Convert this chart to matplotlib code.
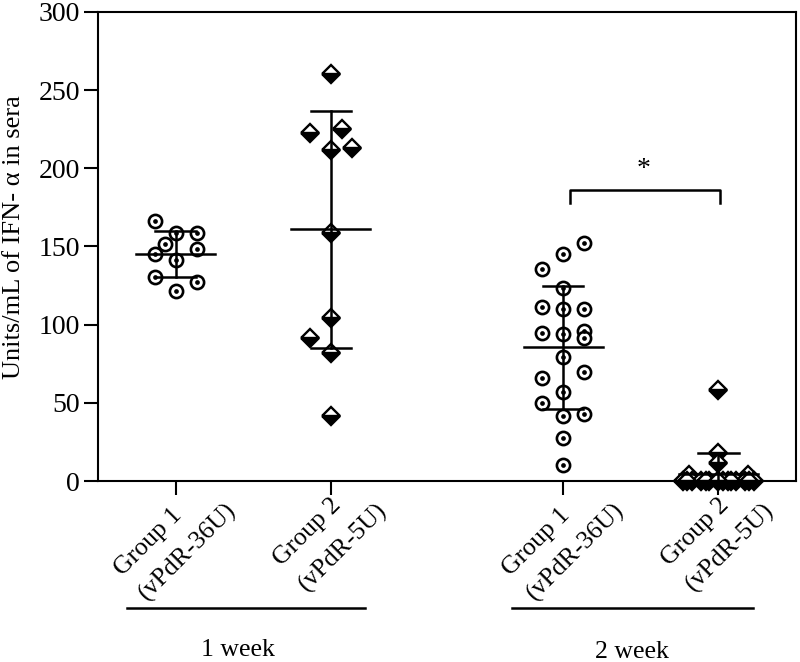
import numpy as np
import matplotlib
matplotlib.use('Agg')
import matplotlib.pyplot as plt
import matplotlib.transforms as mtransforms

plt.rcParams['font.family'] = ['Liberation Serif', 'DejaVu Serif']

# posiciones de las columnas y etiquetas
pos = [1, 2, 3.5, 4.5]
labels = ['Group 1\n(vPdR-36U)', 'Group 2\n(vPdR-5U)',
          'Group 1\n(vPdR-36U)', 'Group 2\n(vPdR-5U)']

# datos (Units/mL)
w1g1 = [166.3, 158.5, 158.7, 151.8, 145.0, 148.4, 141.2, 130.7, 127.5, 121.8]
w1g1_dx = [-0.135, 0, 0.14, -0.065, -0.135, 0.14, 0, -0.135, 0.14, 0]

w1g2 = [260.4, 222.9, 225.2, 211.8, 213.3, 158.5, 104.1, 91.7, 81.7, 41.8]
w1g2_dx = [0, -0.135, 0.07, 0, 0.14, 0, 0, -0.135, 0, 0]

w2g1 = [152.5, 145.0, 135.4, 123.7, 111.1, 109.8, 110.0, 94.9, 94.0, 96.0,
        91.3, 79.5, 65.7, 69.9, 57.1, 50.1, 41.6, 42.9, 27.3, 10.2]
w2g1_dx = [0.135, 0, -0.135, 0, -0.135, 0, 0.135, -0.135, 0, 0.135,
           0.135, 0, -0.135, 0.135, 0, -0.135, 0, 0.135, 0, 0]

w2g2 = [58.2, 17.7, 11.3, 3.8, 3.8, 0, 0, 0, 0, 0, 0, 0, 0, 0, 0, 0, 0, 0, 0, 0]
w2g2_dx = [0, 0, 0, -0.19, 0.19, -0.23, -0.17, -0.11, -0.06, 0, 0.06, 0.11,
           0.17, 0.23, -0.2, -0.08, 0.03, 0.08, 0.2, 0]

fig = plt.figure(figsize=(8, 6.62), dpi=100)
ax = fig.add_axes([0.1225, 0.2734, 0.8725, 0.7085])

def circulos(x0, vals, dx):
    xs = [x0 + d for d in dx]
    ax.plot(xs, vals, 'o', ms=9.5, mfc='white', mec='black', mew=1.9,
            zorder=2, clip_on=False)
    ax.plot(xs, vals, 'o', ms=3.4, mfc='black', mec='black', mew=0,
            zorder=2.1, clip_on=False)

def diamantes(x0, vals, dx):
    xs = [x0 + d for d in dx]
    ax.plot(xs, vals, 'D', ms=9.5, fillstyle='bottom', mfc='black',
            mfcalt='white', mec='black', mew=1.7, zorder=2, clip_on=False)

def media_sd(x0, vals):
    m = np.mean(vals)
    s = np.std(vals, ddof=1)
    ax.plot([x0 - 0.255, x0 + 0.255], [m, m], color='black', lw=1.8, zorder=3)
    ax.plot([x0, x0], [max(m - s, 0), m + s], color='black', lw=1.8, zorder=3)
    ax.plot([x0 - 0.13, x0 + 0.13], [m + s, m + s], color='black', lw=1.8, zorder=3)
    if m - s > 0:
        ax.plot([x0 - 0.13, x0 + 0.13], [m - s, m - s], color='black', lw=1.8, zorder=3)

circulos(pos[0], w1g1, w1g1_dx)
diamantes(pos[1], w1g2, w1g2_dx)
circulos(pos[2], w2g1, w2g1_dx)
diamantes(pos[3], w2g2, w2g2_dx)
for p, v in zip(pos, [w1g1, w1g2, w2g1, w2g2]):
    media_sd(p, v)

# corchete de significancia
ax.plot([3.545, 3.545, 4.51, 4.51], [178, 186, 186, 178], color='black', lw=1.8)
ax.text(4.02, 199, '*', ha='center', va='center', fontsize=20)

ax.set_xlim(0.5, 5.0)
ax.set_ylim(0, 300)
ax.set_yticks([0, 50, 100, 150, 200, 250, 300])
ax.set_xticks(pos)
ax.set_xticklabels(labels, rotation=45, ha='center', va='top',
                   multialignment='left', linespacing=1.7)
ax.tick_params(axis='y', direction='out', length=10, width=1.5, labelsize=20, pad=3)
ax.tick_params(axis='x', direction='out', length=10, width=1.5, labelsize=18.5, pad=-15)
for sp in ax.spines.values():
    sp.set_linewidth(1.5)
ax.set_ylabel('Units/mL of IFN- α in sera', fontsize=19)
ax.yaxis.set_label_coords(-0.105, 0.52)

# lineas de agrupacion por semana
trans = mtransforms.blended_transform_factory(ax.transData, ax.transAxes)
ax.plot([0.685, 2.22], [-0.27, -0.27], color='black', lw=1.8,
        transform=trans, clip_on=False)
ax.plot([3.17, 4.72], [-0.27, -0.27], color='black', lw=1.8,
        transform=trans, clip_on=False)
ax.text(1.40, -0.36, '1 week', transform=trans, ha='center', va='center', fontsize=18.5)
ax.text(3.94, -0.365, '2 week', transform=trans, ha='center', va='center', fontsize=18.5)

fig.savefig('out.png', dpi=100)
